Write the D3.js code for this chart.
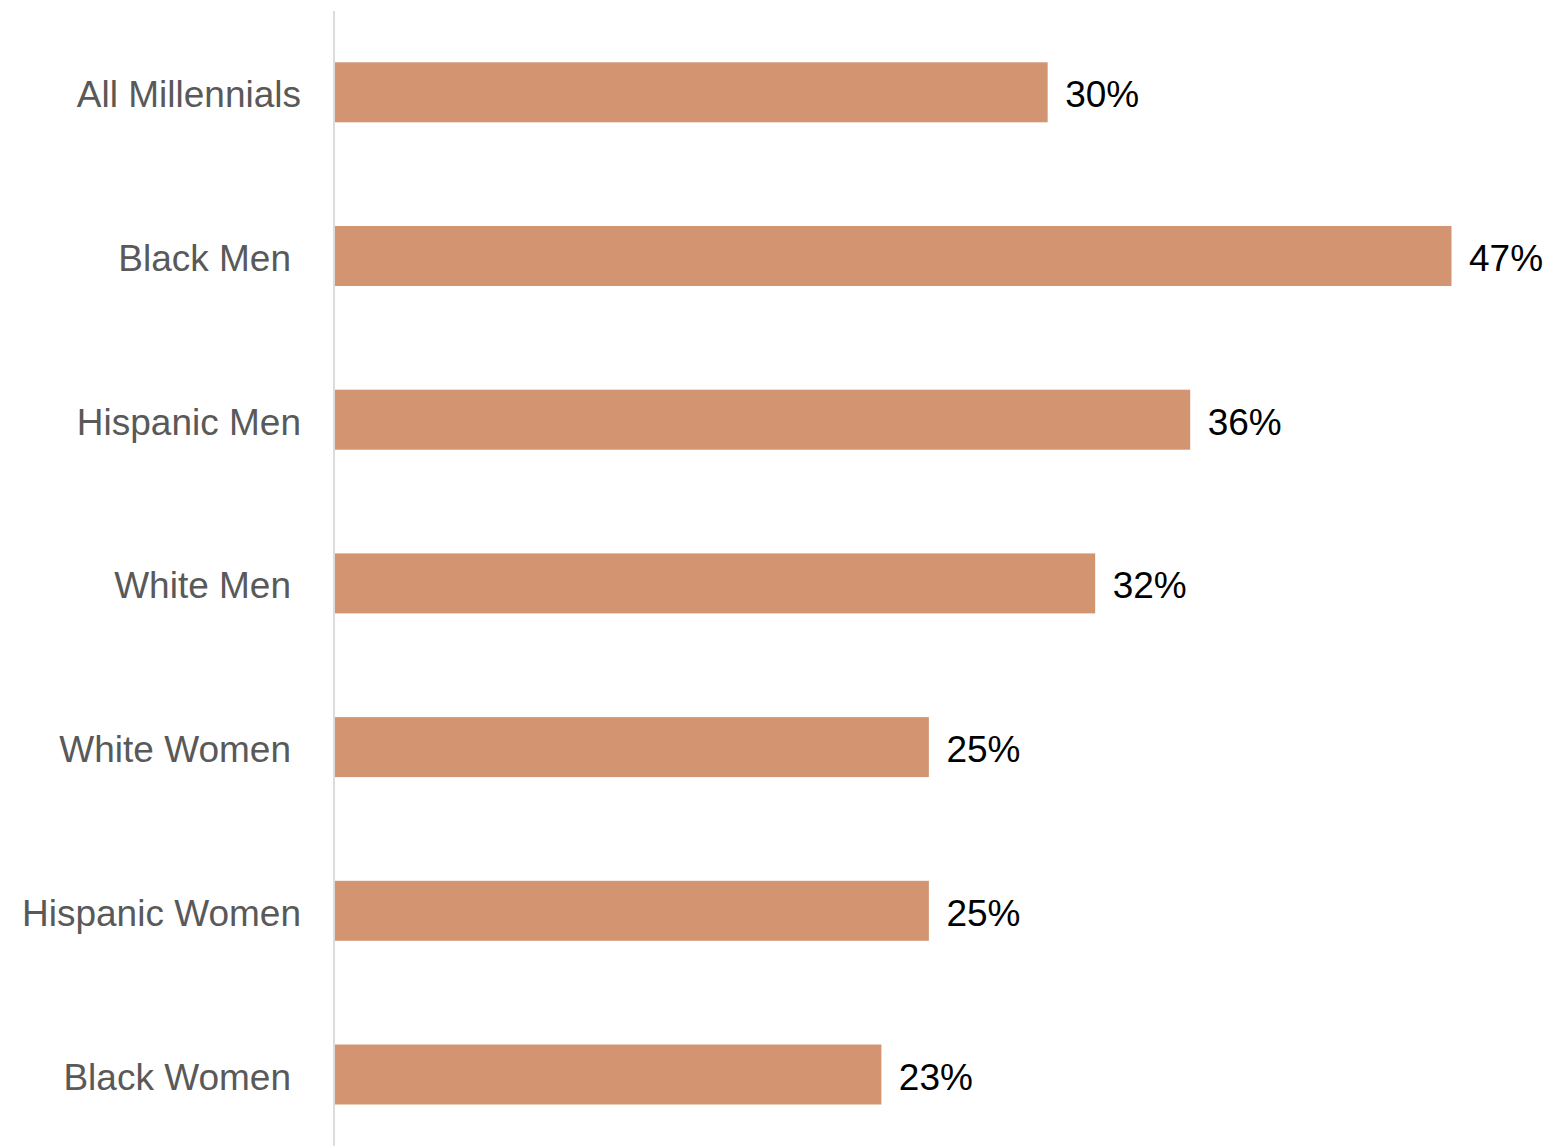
<!DOCTYPE html>
<html>
<head>
<meta charset="utf-8">
<script src="https://cdn.jsdelivr.net/npm/d3@7"></script>
<style>
  html, body { margin: 0; padding: 0; background: #ffffff; }
  svg { display: block; }
</style>
</head>
<body>
<svg id="chart" width="1550" height="1146"></svg>
<script>
const categories = ["All Millennials", "Black Men", "Hispanic Men", "White Men", "White Women", "Hispanic Women", "Black Women"];
const values = [30, 47, 36, 32, 25, 25, 23];
const valueLabels = ["30%", "47%", "36%", "32%", "25%", "25%", "23%"];

const data = categories.map((c, i) => ({ category: c, value: values[i], label: valueLabels[i] }));

const svg = d3.select("#chart");
const x0 = 335;
const x = d3.scaleLinear().domain([0, 47]).range([x0, 1451.5]);
const y = d3.scaleBand().domain(categories).range([10.45, 1156.35]).paddingInner(0.6335).paddingOuter(0.6335 / 2);

// label indent styling (the reference right-aligns some labels slightly further left)
const indented = new Set(["Black Men", "White Men", "White Women", "Black Women"]);

svg.append("g").selectAll("rect").data(data).join("rect")
  .attr("x", x0)
  .attr("y", d => y(d.category))
  .attr("width", d => x(d.value) - x0)
  .attr("height", y.bandwidth())
  .attr("fill", "#d39571");

// axis line
svg.append("line")
  .attr("x1", 334).attr("x2", 334)
  .attr("y1", 11).attr("y2", 1146)
  .attr("stroke", "#dcdcdc").attr("stroke-width", 2);

svg.append("g").selectAll("text").data(data).join("text")
  .attr("x", d => indented.has(d.category) ? 291 : 301)
  .attr("y", d => y(d.category) + y.bandwidth() / 2 + 15)
  .attr("text-anchor", "end")
  .attr("font-family", "'Liberation Sans', Arial, sans-serif")
  .attr("font-size", 37)
  .attr("fill", "#595959")
  .text(d => d.category);

svg.append("g").selectAll("text").data(data).join("text")
  .attr("x", d => x(d.value) + 17.5)
  .attr("y", d => y(d.category) + y.bandwidth() / 2 + 15)
  .attr("text-anchor", "start")
  .attr("font-family", "'Liberation Sans', Arial, sans-serif")
  .attr("font-size", 37)
  .attr("fill", "#000000")
  .text(d => d.label);
</script>
</body>
</html>
